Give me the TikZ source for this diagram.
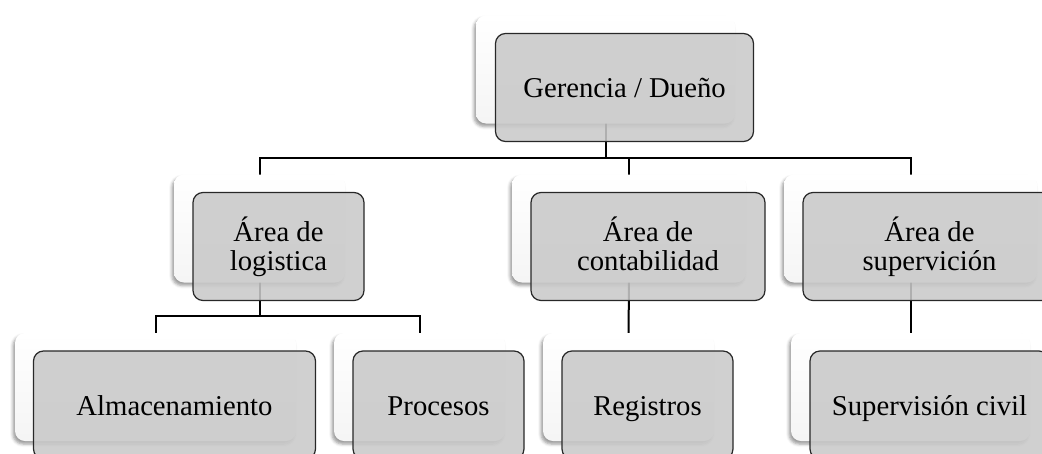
\documentclass[tikz,border=0pt]{standalone}
\usepackage{fontspec}
\setmainfont{Liberation Serif}
\usetikzlibrary{backgrounds,shadows.blur}
\definecolor{frontFill}{RGB}{201,201,201}
\definecolor{frontLine}{RGB}{40,40,40}
\tikzstyle{backBox}=[shape = rectangle, rounded corners = 10pt, minimum height = 108pt, inner sep = 0pt, top color = white, bottom color = black!4, blur shadow = {shadow xshift = -2pt, shadow yshift = -3pt, shadow blur radius = 3pt, shadow opacity = 40}]
\tikzstyle{frontBox}=[shape = rectangle, rounded corners = 10pt, minimum height = 108pt, inner sep = 0pt, draw = frontLine, line width = 1.2pt, fill = frontFill, fill opacity = 0.875, text opacity = 1, align = center, font = \fontsize{28.7}{29}\selectfont, text height = 24pt, text depth = 4pt]
\tikzstyle{frontBoxTwo}=[frontBox, text height = 53pt, text depth = 6pt]

\begin{document}
\begin{tikzpicture}[x = 1pt, y = -1pt]
\tikzstyle{conn}=[draw, line width = 2pt]
\useasboundingbox (0,0) rectangle (1042,453);
\coordinate (bus1) at (0,158);
\coordinate (bus2) at (0,316);
% top
\node[backBox, minimum width = 259pt] (gerB) at (605.5,69.5) {};
\node[frontBox, minimum width = 258pt] (ger) at ([shift = {(19,18)}]gerB.center) {Gerencia / Dueño};
% second row
\node[backBox, minimum width = 171pt] (logB) at (259.5,228.5) {};
\node[frontBoxTwo, minimum width = 171pt] (log) at ([shift = {(19,18)}]logB.center) {Área de\\logistica};
\node[backBox, minimum width = 234pt] (conB) at (629,228.5) {};
\node[frontBoxTwo, minimum width = 234pt] (con) at ([shift = {(19,18)}]conB.center) {Área de\\contabilidad};
\node[backBox, minimum width = 253pt] (supB) at (910.5,228.5) {};
\node[frontBoxTwo, minimum width = 253pt] (sup) at ([shift = {(19,18)}]supB.center) {Área de\\supervición};
% third row
\node[backBox, minimum width = 281pt] (almB) at (155.5,387) {};
\node[frontBox, minimum width = 282pt] (alm) at ([shift = {(19,18)}]almB.center) {Almacenamiento};
\node[backBox, minimum width = 171pt] (proB) at (419.5,387) {};
\node[frontBox, minimum width = 171pt] (pro) at ([shift = {(19,18)}]proB.center) {Procesos};
\node[backBox, minimum width = 171pt] (regB) at (628.5,387) {};
\node[frontBox, minimum width = 171pt] (reg) at ([shift = {(19,18)}]regB.center) {Registros};
\node[backBox, minimum width = 239pt] (civB) at (910.5,387) {};
\node[frontBox, minimum width = 239pt] (civ) at ([shift = {(19,18)}]civB.center) {Supervisión civil};
% connectors behind the boxes
\begin{scope}[on background layer]
\draw[conn] (gerB.center) -- (gerB.center |- bus1) -| (logB.center);
\draw[conn] (gerB.center) -- (gerB.center |- bus1) -| (conB.center);
\draw[conn] (gerB.center) -- (gerB.center |- bus1) -| (supB.center);
\draw[conn] (logB.center) -- (logB.center |- bus2) -| (almB.center);
\draw[conn] (logB.center) -- (logB.center |- bus2) -| (proB.center);
\draw[conn] (conB.center) -- (regB.center);
\draw[conn] (supB.center) -- (civB.center);
\end{scope}
\end{tikzpicture}
\end{document}
